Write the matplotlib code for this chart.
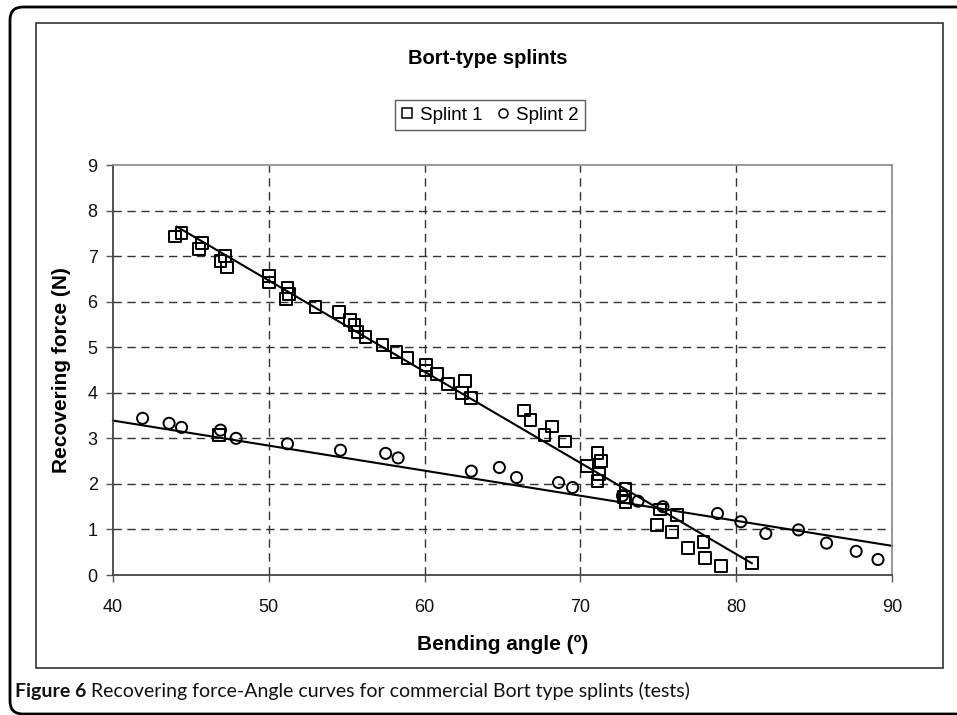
import numpy as np
import matplotlib
matplotlib.use("Agg")
import matplotlib.pyplot as plt
from matplotlib.patches import FancyBboxPatch, Rectangle
from matplotlib.transforms import IdentityTransform
from matplotlib.lines import Line2D

# Splint 1 measurements (bending angle in degrees, recovering force in N)
splint1_angle = [44.0, 44.4, 45.5, 45.7, 46.8, 46.9, 47.2, 47.3, 50.0, 50.0,
                 51.1, 51.2, 51.3, 53.0, 54.5, 55.2, 55.5, 55.7, 56.2, 57.3,
                 58.2, 58.9, 60.1, 60.1, 60.8, 61.5, 62.4, 62.6, 63.0, 66.4,
                 66.8, 67.7, 68.2, 69.0, 70.4, 71.1, 71.3, 71.2, 71.1, 72.8,
                 72.9, 72.9, 74.9, 75.1, 75.9, 76.2, 76.9, 77.9, 78.0, 79.0,
                 81.0]
splint1_force = [7.43, 7.50, 7.15, 7.28, 3.07, 6.89, 7.00, 6.75, 6.56, 6.42,
                 6.06, 6.31, 6.17, 5.88, 5.77, 5.59, 5.49, 5.33, 5.23, 5.05,
                 4.90, 4.76, 4.61, 4.49, 4.41, 4.19, 4.00, 4.26, 3.89, 3.61,
                 3.40, 3.07, 3.26, 2.93, 2.39, 2.67, 2.50, 2.22, 2.06, 1.72,
                 1.89, 1.60, 1.10, 1.44, 0.95, 1.31, 0.59, 0.73, 0.38, 0.20,
                 0.26]

# Splint 2 measurements
splint2_angle = [41.9, 43.6, 44.4, 46.9, 47.9, 51.2, 54.6, 57.5, 58.3, 63.0,
                 64.8, 65.9, 68.6, 69.5, 72.7, 73.7, 75.3, 78.8, 80.3, 81.9,
                 84.0, 85.8, 87.7, 89.1]
splint2_force = [3.44, 3.33, 3.24, 3.18, 3.00, 2.88, 2.74, 2.67, 2.57, 2.28,
                 2.36, 2.14, 2.03, 1.92, 1.74, 1.62, 1.50, 1.35, 1.17, 0.91,
                 0.99, 0.70, 0.52, 0.34]

# linear trendlines: slope, intercept, x range
trend1 = (-0.2002, 16.475, 44.1, 81.0)
trend2 = (-0.0550, 5.590, 40.0, 90.0)

x_ticks = [40, 50, 60, 70, 80, 90]
y_ticks = [0, 1, 2, 3, 4, 5, 6, 7, 8, 9]

W, H = 957, 715
fig = plt.figure(figsize=(W / 100, H / 100), dpi=100)
plt.rcParams['font.family'] = ['Liberation Sans', 'DejaVu Sans']


def fx(px):
    return px / W


def fy(py):
    return 1 - py / H


# outer rounded frame and inner chart frame, drawn in pixel space
outer = FancyBboxPatch((10, 1), 975, 707, boxstyle="round,pad=0,rounding_size=13",
                       transform=IdentityTransform(), fill=False, lw=2.0,
                       ec='black', zorder=0)
fig.patches.append(outer)
inner = Rectangle((36, H - 668), 907, 645, transform=IdentityTransform(),
                  fill=False, lw=1.2, ec='#333333', zorder=0)
fig.patches.append(inner)

ax = fig.add_axes([fx(113), fy(575), fx(892) - fx(113), fy(165) - fy(575)])
ax.set_xlim(40, 90)
ax.set_ylim(0, 9)
ax.set_xticks(x_ticks)
ax.set_yticks(y_ticks)
ax.tick_params(direction='out', length=5, width=1, color='#555555',
               labelsize=13, labelcolor='#111111', pad=6)
ax.tick_params(axis='x', pad=12)

for side in ['top', 'right']:
    ax.spines[side].set_color('#888888')
    ax.spines[side].set_linewidth(1.2)
for side in ['left', 'bottom']:
    ax.spines[side].set_color('#444444')
    ax.spines[side].set_linewidth(1.3)

# dashed grid at inner ticks only
for v in x_ticks[1:-1]:
    ax.axvline(v, color='#333333', lw=1.0, ls=(0, (6, 4)), zorder=1)
for v in y_ticks[1:-1]:
    ax.axhline(v, color='#333333', lw=1.0, ls=(0, (6, 4)), zorder=1)

ax.scatter(splint1_angle, splint1_force, marker='s', s=72, facecolors='none',
           edgecolors='black', linewidths=1.4, zorder=3)
ax.scatter(splint2_angle, splint2_force, marker='o', s=64, facecolors='none',
           edgecolors='black', linewidths=1.4, zorder=3)

for slope, icpt, x0, x1 in [trend1, trend2]:
    xs = np.array([x0, x1])
    ax.plot(xs, slope * xs + icpt, color='black', lw=1.5, zorder=2,
            clip_on=False)

ax.set_xlabel('Bending angle (º)', fontsize=15, fontweight='bold', labelpad=14)
ax.set_ylabel('Recovering force (N)', fontsize=15, fontweight='bold', labelpad=12)

fig.text(fx(488), fy(58), 'Bort-type splints', fontsize=14.5, fontweight='bold',
         ha='center', va='center')

handles = [Line2D([], [], marker='s', ls='none', mfc='none', mec='black', ms=6.5, mew=1.1),
           Line2D([], [], marker='o', ls='none', mfc='none', mec='black', ms=6.5, mew=1.1)]
leg = fig.legend(handles, ['Splint 1', 'Splint 2'], loc='center',
                 bbox_to_anchor=(fx(490), fy(115)), ncol=2, fontsize=13.5,
                 frameon=True, fancybox=False, handlelength=0.6,
                 handletextpad=0.4, columnspacing=0.8, borderpad=0.35)
leg.get_frame().set_edgecolor('#333333')
leg.get_frame().set_linewidth(1.0)

# caption: bold label followed by regular text
cap_font = ['Lato', 'DejaVu Sans']
t1 = fig.text(fx(15), fy(691), 'Figure 6', fontsize=14, fontweight='bold',
              family=cap_font, va='center', color='#111111')
fig.canvas.draw()
bb = t1.get_window_extent()
fig.text((bb.x1 + 5) / W, fy(691),
         'Recovering force-Angle curves for commercial Bort type splints (tests)',
         fontsize=14, family=cap_font, va='center', color='#111111')

fig.savefig('out.png', dpi=100)
